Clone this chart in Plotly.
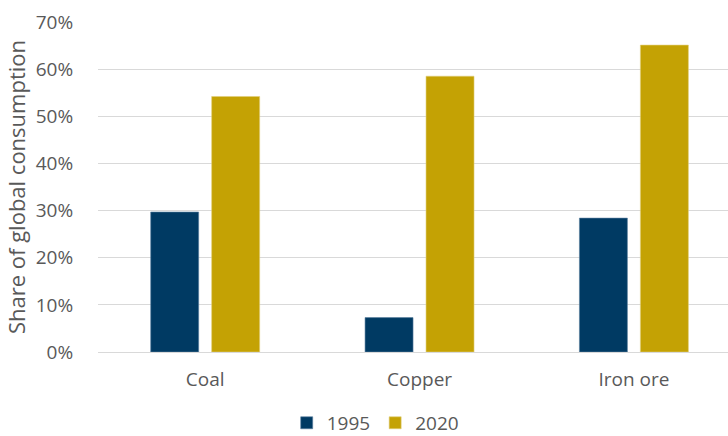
import plotly.graph_objects as go

categories = ["Coal", "Copper", "Iron ore"]
share_1995 = [0.297, 0.073, 0.284]
share_2020 = [0.542, 0.585, 0.651]
series_names = ["1995", "2020"]
y_ticks = [0, 0.1, 0.2, 0.3, 0.4, 0.5, 0.6, 0.7]
y_tick_labels = ["0%", "10%", "20%", "30%", "40%", "50%", "60%", "70%"]

FONT = "Open Sans"
GRAY = "#595959"

fig = go.Figure()
fig.add_trace(go.Bar(x=categories, y=share_1995, name=series_names[0],
                     marker=dict(color="#003A63", line=dict(color="#5a7fa0", width=0.6))))
fig.add_trace(go.Bar(x=categories, y=share_2020, name=series_names[1],
                     marker=dict(color="#C4A204", line=dict(color="#e0cf7a", width=0.6))))

fig.update_layout(
    width=728, height=436,
    margin=dict(l=98, r=0, t=22, b=84, autoexpand=False),
    paper_bgcolor="white", plot_bgcolor="white",
    barmode="group", bargap=0.431, bargroupgap=0.213,
    font=dict(family=FONT, size=19, color=GRAY),
    showlegend=True,
    legend=dict(orientation="h", x=0.44, xanchor="center",
                yref="container", y=0.03, yanchor="middle",
                font=dict(family=FONT, size=19, color=GRAY),
                traceorder="normal", itemwidth=30),
    xaxis=dict(range=[-0.5, 2.439], showgrid=False, showline=False,
               ticks="outside", ticklen=10, tickcolor="rgba(0,0,0,0)",
               tickfont=dict(family=FONT, size=19, color=GRAY)),
    yaxis=dict(range=[0, 0.7], tickvals=y_ticks, ticktext=y_tick_labels,
               showgrid=True, gridcolor="#D9D9D9", gridwidth=1,
               zeroline=True, zerolinecolor="#D9D9D9", zerolinewidth=1,
               ticks="outside", ticklen=20, tickcolor="rgba(0,0,0,0)",
               tickfont=dict(family=FONT, size=19, color=GRAY),
               title=dict(text="Share of global consumption", standoff=4,
                          font=dict(family=FONT, size=22, color=GRAY))),
)

fig.write_html("out.html")
